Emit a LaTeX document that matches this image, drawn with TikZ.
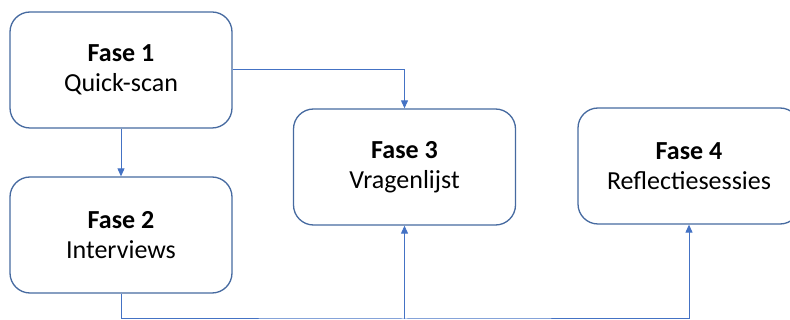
\documentclass[tikz,border=0pt]{standalone}
\usepackage{fontspec}
\setmainfont{Carlito}
\usetikzlibrary{arrows.meta}
\definecolor{boxblue}{RGB}{70,106,160}
\definecolor{linkblue}{RGB}{68,114,196}
\begin{document}
\begin{tikzpicture}[x=1pt,y=-1pt,
  phase/.style={draw=boxblue, line width=1.3pt, rounded corners=20pt, fill=white,
    minimum width=222pt, minimum height=116pt, align=center, inner sep=0pt,
    font=\fontsize{26}{30}\selectfont},
  link/.style={draw=linkblue, line width=1pt},
  tip/.style={-{Triangle[length=8pt,width=7pt]}}]
  \useasboundingbox (0,0) rectangle (790,320);

  % the four phases
  \node[phase] (f1) at (121,70)   {\textbf{Fase 1}\\Quick-scan};
  \node[phase] (f2) at (121,235)  {\textbf{Fase 2}\\Interviews};
  \node[phase] (f3) at (404.5,167) {\textbf{Fase 3}\\Vragenlijst};
  \node[phase] (f4) at (689,166)  {\textbf{Fase 4}\\Reflectiesessies};

  % connectors
  \draw[link,tip] (f1.south) -- (f2.north);
  \draw[link,tip] (f1.east) -| (f3.north);
  \coordinate (bus) at (f3.south |- 0,319);
  \draw[link,tip] (f2.south) |- (bus) -| (f4.south);
  \draw[link,tip] (bus) -- (f3.south);
\end{tikzpicture}
\end{document}
